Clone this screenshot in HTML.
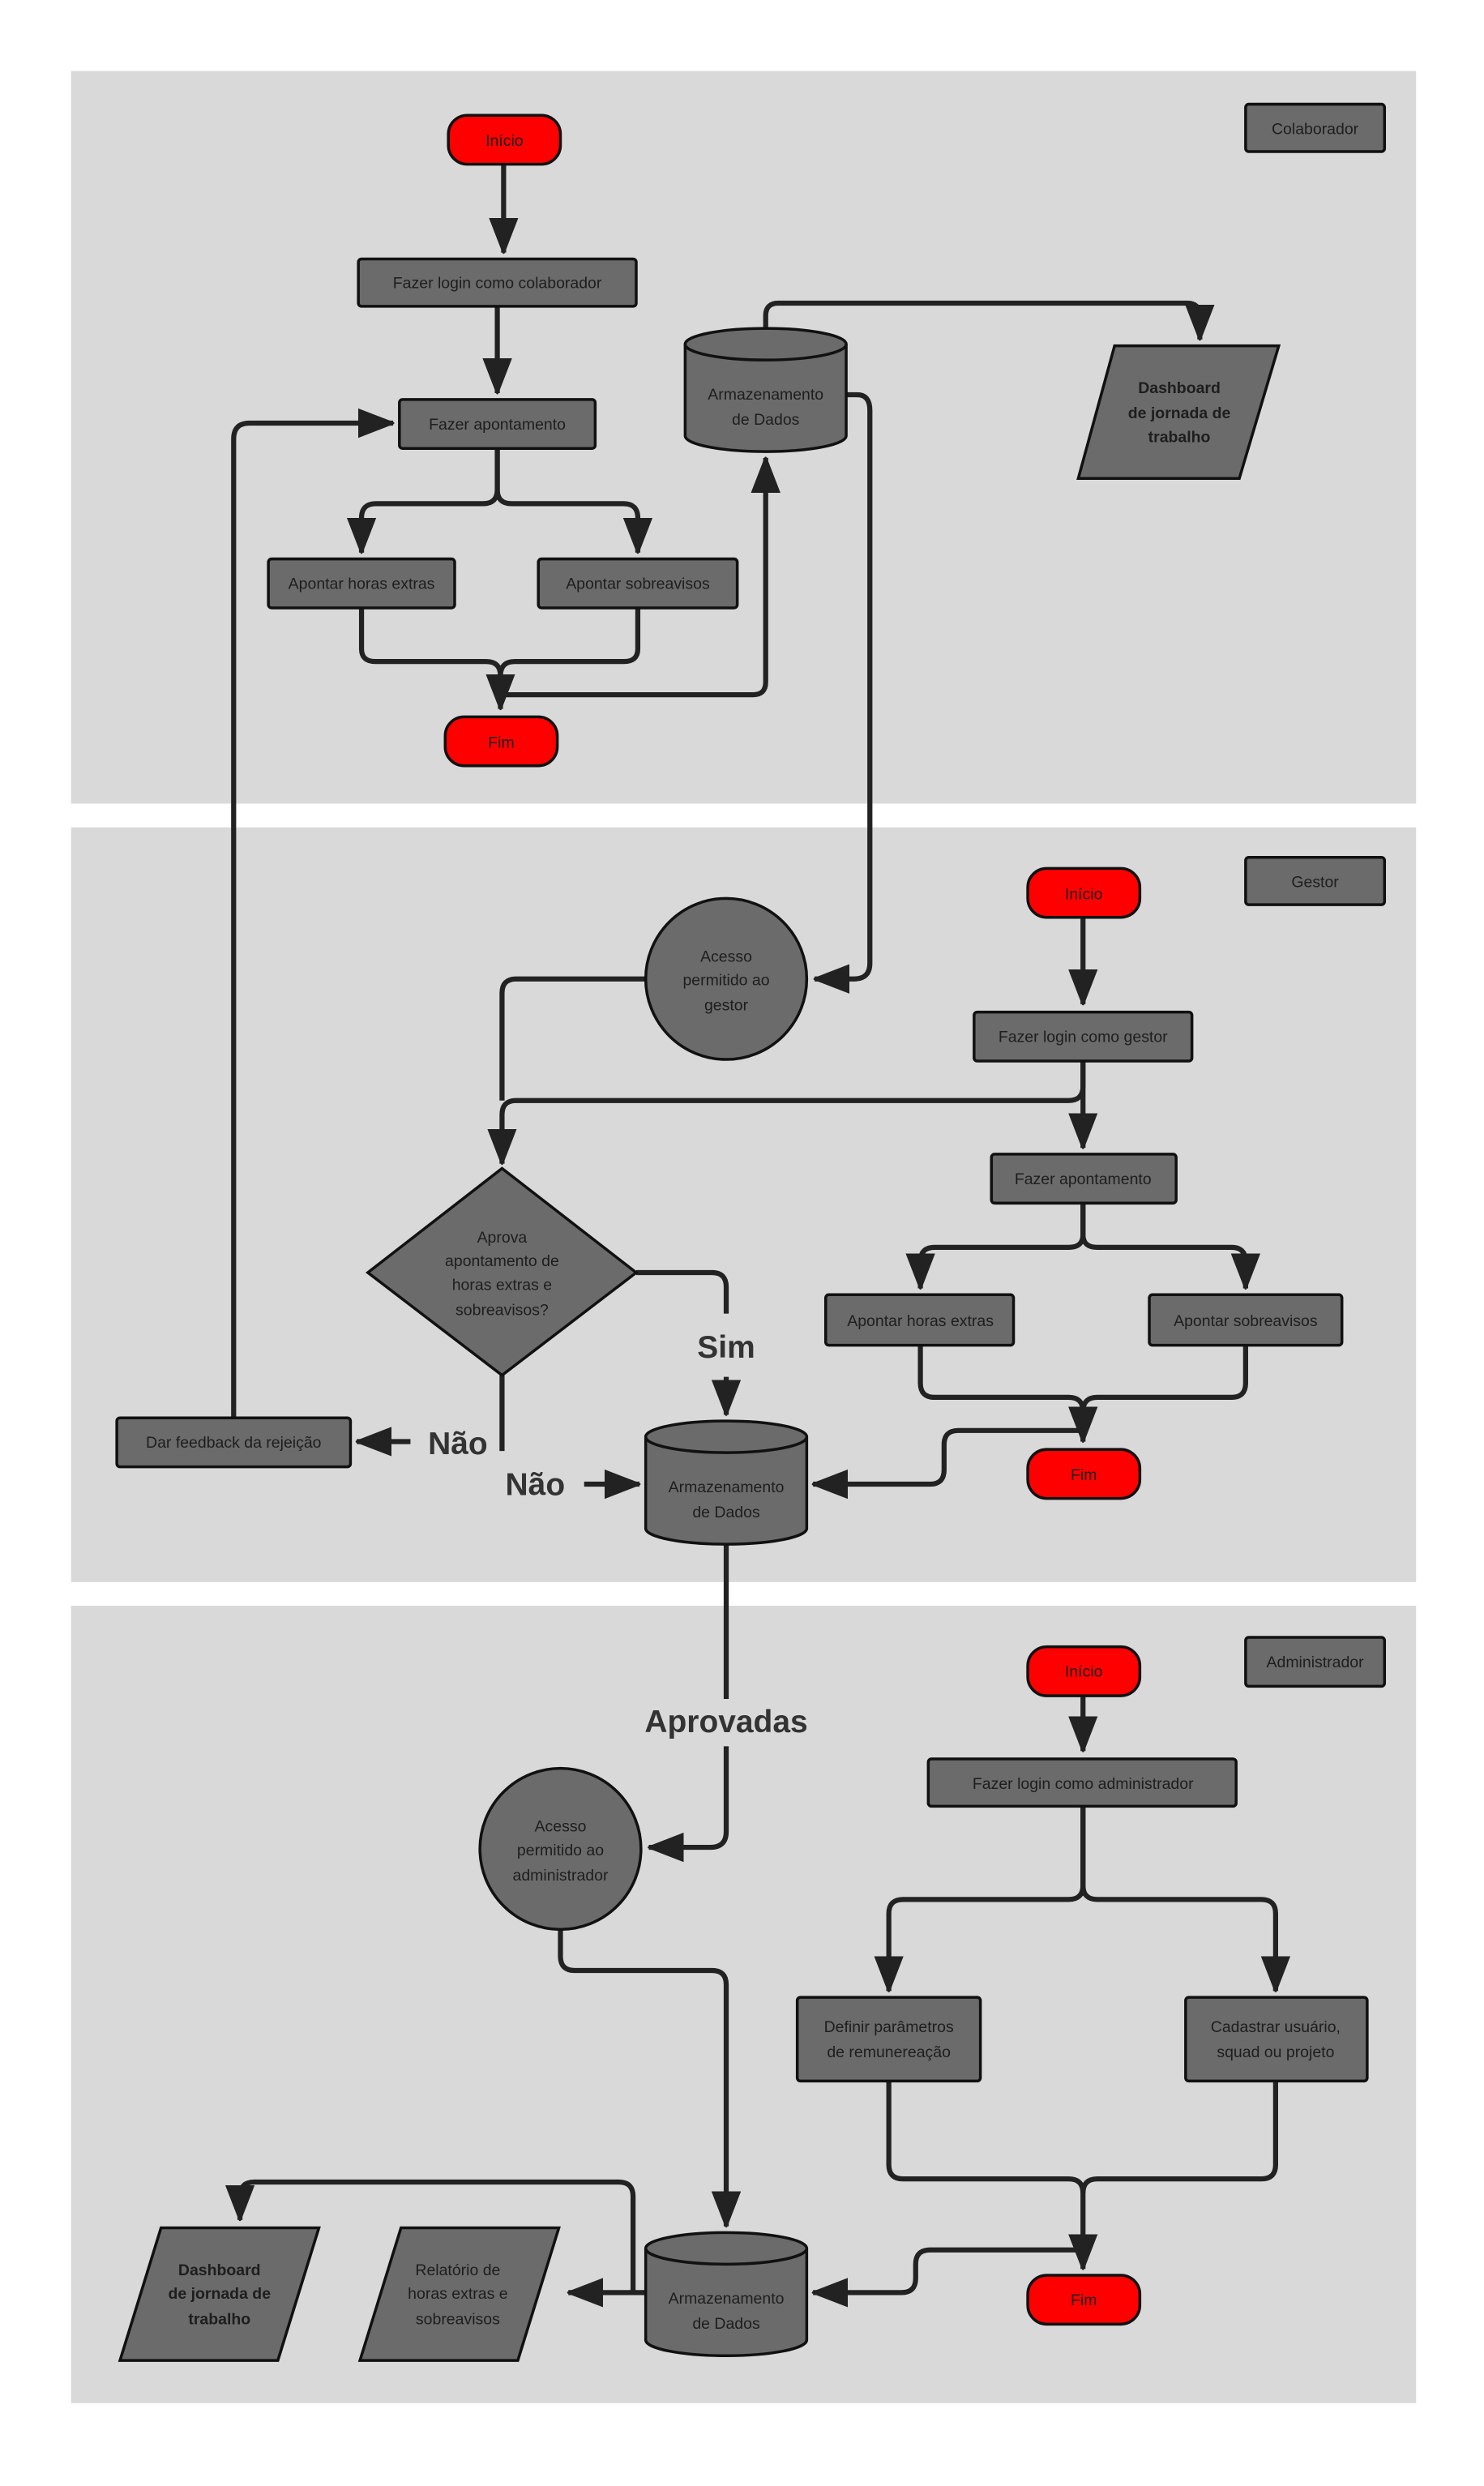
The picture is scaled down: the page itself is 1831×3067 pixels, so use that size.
<!DOCTYPE html>
<html><head><meta charset="utf-8"><style>html,body{margin:0;padding:0;background:#fff}svg{display:block}</style></head>
<body>
<svg width="1831" height="3067" viewBox="0 0 940 1574.5" preserveAspectRatio="none" xmlns="http://www.w3.org/2000/svg" font-family="'Liberation Sans', sans-serif">
<defs>
<marker id="a" markerUnits="userSpaceOnUse" markerWidth="24" markerHeight="20" viewBox="0 0 24 20" refX="22" refY="10" orient="auto">
<path d="M0,1.5 L22,10 L0,18.5 z" fill="#222" stroke="#222" stroke-width="1.5" stroke-linejoin="round"/>
</marker>
</defs>
<rect width="940" height="1574.5" fill="#fff"/>
<rect x="45" y="45" width="852" height="464" fill="#d9d9d9"/>
<rect x="45" y="524" width="852" height="478" fill="#d9d9d9"/>
<rect x="45" y="1017" width="852" height="505" fill="#d9d9d9"/>

<g fill="none" stroke="#222" stroke-width="3.2" stroke-linejoin="round">
<path d="M319,104 V160" marker-end="url(#a)"/>
<path d="M315,194 V249" marker-end="url(#a)"/>
<path d="M315,284 V310 Q315,319 306,319 H238 Q229,319 229,328 V350" marker-end="url(#a)"/>
<path d="M315,284 V310 Q315,319 324,319 H395 Q404,319 404,328 V350" marker-end="url(#a)"/>
<path d="M229,385 V411 Q229,419 238,419 H308 Q317,419 317,428 V449" marker-end="url(#a)"/>
<path d="M404,385 V411 Q404,419 395,419 H326 Q317,419 317,428"/>
<path d="M317,440 H477 Q485,440 485,432 V290" marker-end="url(#a)"/>
<path d="M485,208 V200 Q485,192 493,192 H752 Q760,192 760,200 V215" marker-end="url(#a)"/>
<path d="M536,250 H543 Q551,250 551,260 V610 Q551,620 541,620 H516" marker-end="url(#a)"/>
<path d="M148,898 V278 Q148,268 158,268 H249" marker-end="url(#a)"/>
<path d="M686,581 V636" marker-end="url(#a)"/>
<path d="M686,672 V727" marker-end="url(#a)"/>
<path d="M686,672 V688 Q686,697 677,697 H327 Q318,697 318,706 V737" marker-end="url(#a)"/>
<path d="M409,620 H327 Q318,620 318,629 V697"/>
<path d="M686,762 V782 Q686,790 677,790 H592 Q583,790 583,799 V816" marker-end="url(#a)"/>
<path d="M686,762 V782 Q686,790 695,790 H780 Q789,790 789,799 V816" marker-end="url(#a)"/>
<path d="M583,852 V876 Q583,885 592,885 H677 Q686,885 686,894 V913" marker-end="url(#a)"/>
<path d="M789,852 V876 Q789,885 780,885 H695 Q686,885 686,894"/>
<path d="M686,906 H607 Q598,906 598,915 V931 Q598,940 589,940 H515" marker-end="url(#a)"/>
<path d="M403,806 H451 Q460,806 460,815 V832"/>
<path d="M460,872 V896" marker-end="url(#a)"/>
<path d="M318,871 V919"/>
<path d="M260,913 H226" marker-end="url(#a)"/>
<path d="M370,940 H405" marker-end="url(#a)"/>
<path d="M460,978 V1076"/>
<path d="M460,1106 V1160 Q460,1170 450,1170 H411" marker-end="url(#a)"/>
<path d="M686,1074 V1109" marker-end="url(#a)"/>
<path d="M686,1144 V1194 Q686,1203 677,1203 H572 Q563,1203 563,1212 V1261" marker-end="url(#a)"/>
<path d="M686,1144 V1194 Q686,1203 695,1203 H799 Q808,1203 808,1212 V1261" marker-end="url(#a)"/>
<path d="M563,1318 V1371 Q563,1380 572,1380 H677 Q686,1380 686,1389 V1437" marker-end="url(#a)"/>
<path d="M808,1318 V1371 Q808,1380 799,1380 H695 Q686,1380 686,1389"/>
<path d="M686,1425 H589 Q580,1425 580,1434 V1443 Q580,1452 571,1452 H515" marker-end="url(#a)"/>
<path d="M355,1222 V1239 Q355,1248 364,1248 H451 Q460,1248 460,1257 V1410" marker-end="url(#a)"/>
<path d="M409,1452 H360" marker-end="url(#a)"/>
<path d="M401,1452 V1391 Q401,1382 392,1382 H161 Q152,1382 152,1391 V1406" marker-end="url(#a)"/>
</g>

<g stroke="#111" stroke-width="1.8" fill="#6b6b6b">
<rect x="284" y="73" width="71" height="31" rx="12" fill="#ff0000"/>
<rect x="282" y="454" width="71" height="31" rx="12" fill="#ff0000"/>
<rect x="651" y="550" width="71" height="31" rx="12" fill="#ff0000"/>
<rect x="651" y="918" width="71" height="31" rx="12" fill="#ff0000"/>
<rect x="651" y="1043" width="71" height="31" rx="12" fill="#ff0000"/>
<rect x="651" y="1441" width="71" height="31" rx="12" fill="#ff0000"/>
<rect x="789" y="66" width="88" height="30" rx="2"/>
<rect x="789" y="543" width="88" height="30" rx="2"/>
<rect x="789" y="1037" width="88" height="31" rx="2"/>
<rect x="227" y="164" width="176" height="30" rx="2"/>
<rect x="253" y="253" width="124" height="31" rx="2"/>
<rect x="170" y="354" width="118" height="31" rx="2"/>
<rect x="341" y="354" width="126" height="31" rx="2"/>
<rect x="617" y="641" width="138" height="31" rx="2"/>
<rect x="628" y="731" width="117" height="31" rx="2"/>
<rect x="523" y="820" width="119" height="32" rx="2"/>
<rect x="728" y="820" width="122" height="32" rx="2"/>
<rect x="74" y="898" width="148" height="31" rx="2"/>
<rect x="588" y="1114" width="195" height="30" rx="2"/>
<rect x="505" y="1265" width="116" height="53" rx="2"/>
<rect x="751" y="1265" width="115" height="53" rx="2"/>
<path d="M434,218 A51,10 0 0 1 536,218 V276 A51,10 0 0 1 434,276 Z"/>
<path d="M434,218 A51,10 0 0 0 536,218" fill="none"/>
<path d="M409,910 A51,10 0 0 1 511,910 V968 A51,10 0 0 1 409,968 Z"/>
<path d="M409,910 A51,10 0 0 0 511,910" fill="none"/>
<path d="M409,1424 A51,10 0 0 1 511,1424 V1482 A51,10 0 0 1 409,1482 Z"/>
<path d="M409,1424 A51,10 0 0 0 511,1424" fill="none"/>
<circle cx="460" cy="620" r="51"/>
<circle cx="355" cy="1171" r="51"/>
<path d="M318,740 L403,806 L318,871 L233,806 Z"/>
<path d="M706,219 L810,219 L785,303 L683,303 Z"/>
<path d="M102,1411 L202,1411 L176,1495 L76,1495 Z"/>
<path d="M254,1411 L354,1411 L328,1495 L228,1495 Z"/>
</g>

<g font-size="10" fill="#1e1e1e" text-anchor="middle">
<text x="319.5" y="92.5">Início</text>
<text x="317.5" y="473.5">Fim</text>
<text x="686.5" y="569.5">Início</text>
<text x="686.5" y="937.5">Fim</text>
<text x="686.5" y="1062">Início</text>
<text x="686.5" y="1460">Fim</text>
<text x="833" y="85">Colaborador</text>
<text x="833" y="562">Gestor</text>
<text x="833" y="1056">Administrador</text>
<text x="315" y="182.5">Fazer login como colaborador</text>
<text x="315" y="272">Fazer apontamento</text>
<text x="229" y="373">Apontar horas extras</text>
<text x="404" y="373">Apontar sobreavisos</text>
<text x="686" y="660">Fazer login como gestor</text>
<text x="686" y="750">Fazer apontamento</text>
<text x="583" y="840">Apontar horas extras</text>
<text x="789" y="840">Apontar sobreavisos</text>
<text x="148" y="917">Dar feedback da rejeição</text>
<text x="686" y="1133">Fazer login como administrador</text>
<text x="563" y="1287">Definir parâmetros</text>
<text x="563" y="1303">de remunereação</text>
<text x="808" y="1287">Cadastrar usuário,</text>
<text x="808" y="1303">squad ou projeto</text>
<text x="485" y="253">Armazenamento</text>
<text x="485" y="269">de Dados</text>
<text x="460" y="945">Armazenamento</text>
<text x="460" y="961">de Dados</text>
<text x="460" y="1459">Armazenamento</text>
<text x="460" y="1475">de Dados</text>
<text x="460" y="609">Acesso</text>
<text x="460" y="624">permitido ao</text>
<text x="460" y="640">gestor</text>
<text x="355" y="1160">Acesso</text>
<text x="355" y="1175">permitido ao</text>
<text x="355" y="1191">administrador</text>
<text x="318" y="787">Aprova</text>
<text x="318" y="802">apontamento de</text>
<text x="318" y="817">horas extras e</text>
<text x="318" y="833">sobreavisos?</text>
<text x="290" y="1441">Relatório de</text>
<text x="290" y="1456">horas extras e</text>
<text x="290" y="1472">sobreavisos</text>
<g font-weight="bold">
<text x="747" y="249">Dashboard</text>
<text x="747" y="265">de jornada de</text>
<text x="747" y="280">trabalho</text>
<text x="139" y="1441">Dashboard</text>
<text x="139" y="1456">de jornada de</text>
<text x="139" y="1472">trabalho</text>
</g>
</g>
<g font-size="20" font-weight="bold" fill="#333" text-anchor="middle">
<text x="460" y="860">Sim</text>
<text x="290" y="921">Não</text>
<text x="339" y="947">Não</text>
<text x="460" y="1097">Aprovadas</text>
</g>
</svg>
</body></html>
